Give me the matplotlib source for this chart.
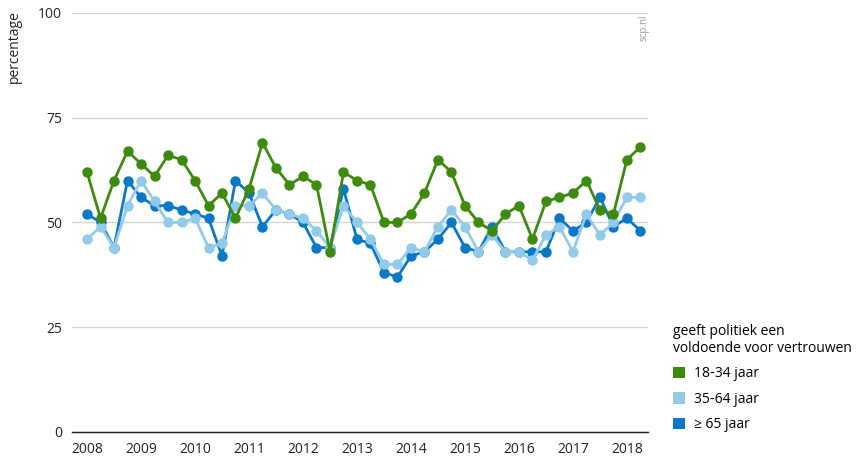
"""
Vertrouwen in de politiek naar leeftijd, per kwartaal 2008-2018.
"""

import matplotlib
matplotlib.use("Agg")
import matplotlib.pyplot as plt
from matplotlib.patches import Patch

plt.rcParams['font.family'] = ['Open Sans', 'DejaVu Sans']

# quarters 2008 Q1 .. 2018 Q2
years = list(range(2008, 2019))
n_quarters = 42

jong = [62, 51, 60, 67, 64, 61, 66, 65, 60, 54, 57, 51, 58, 69, 63, 59, 61, 59, 43, 62,
        60, 59, 50, 50, 52, 57, 65, 62, 54, 50, 48, 52, 54, 46, 55, 56, 57, 60, 53, 52,
        65, 68]
midden = [46, 49, 44, 54, 60, 55, 50, 50, 51, 44, 45, 54, 54, 57, 53, 52, 51, 48, 44, 54,
          50, 46, 40, 40, 44, 43, 49, 53, 49, 43, 47, 43, 43, 41, 47, 49, 43, 52, 47, 50,
          56, 56]
oud = [52, 50, 44, 60, 56, 54, 54, 53, 52, 51, 42, 60, 57, 49, 53, 52, 50, 44, 44, 58,
       46, 45, 38, 37, 42, 43, 46, 50, 44, 43, 49, 43, 43, 43, 43, 51, 48, 50, 56, 49,
       51, 48]

labels = ["18\u201134 jaar", "35\u201164 jaar", "\u2265 65 jaar"]
colors = ["#3d8a0c", "#92cbea", "#0a78c6"]

x = [2008 + i / 4 for i in range(n_quarters)]

fig = plt.figure(figsize=(8.56, 4.61), dpi=100)
ax = fig.add_axes([0.084, 0.063, 0.673, 0.909])

# draw order: oldest at bottom, youngest on top
for vals, col, z in [(oud, colors[2], 3), (midden, colors[1], 4), (jong, colors[0], 5)]:
    ax.plot(x, vals, '-o', color=col, linewidth=2.0, markersize=6.5, zorder=z)

ax.set_xlim(2007.72, 2018.39)
ax.set_ylim(0, 100)
ax.set_yticks([0, 25, 50, 75, 100])
ax.set_xticks(years)
ax.set_xticklabels([str(y) for y in years])
ax.grid(True, axis='y', color='#d4d4d4', linewidth=1)
ax.set_axisbelow(True)
ax.tick_params(length=0, labelsize=10, colors='#222222')
ax.tick_params(axis='y', pad=7)
ax.tick_params(axis='x', pad=7)

for side in ['top', 'right', 'left']:
    ax.spines[side].set_visible(False)
ax.spines['bottom'].set_color('#222222')
ax.spines['bottom'].set_linewidth(1)

fig.text(0.008, 0.978, "percentage", rotation=90, ha='left', va='top',
         fontsize=10, color='#222222')
fig.text(0.759, 0.968, "scp.nl", rotation=90, ha='right', va='top',
         fontsize=7, color='#999999')

handles = [Patch(facecolor=c, edgecolor='none') for c in colors]
leg = fig.legend(handles, labels, loc='upper left', bbox_to_anchor=(0.786, 0.298),
                 title="geeft politiek een\nvoldoende voor vertrouwen",
                 frameon=False, fontsize=10, title_fontsize=10,
                 handlelength=0.9, handleheight=0.9, handletextpad=0.6,
                 labelspacing=0.75, borderpad=0, borderaxespad=0)
leg._legend_box.align = "left"

fig.savefig("out.png", dpi=100)
